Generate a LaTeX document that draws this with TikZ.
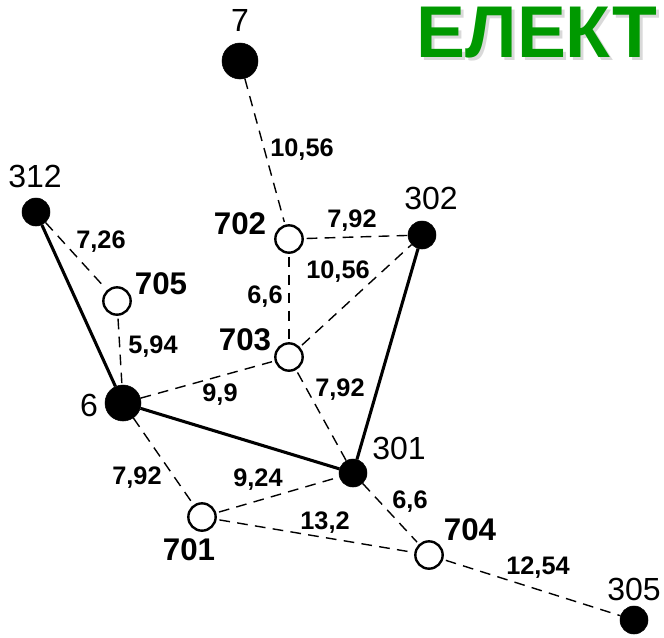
\documentclass[tikz,border=0pt]{standalone}
\usepackage{fontspec}
\setmainfont{Liberation Sans}
\usepackage{tikz}
\usetikzlibrary{positioning}

\begin{document}
\begin{tikzpicture}[x=0.75pt,y=-0.75pt,
  bnode/.style={circle,fill=black,draw=black,inner sep=0pt},
  wnode/.style={circle,fill=white,draw=black,line width=1.8pt,inner sep=0pt,minimum size=20.5pt,outer sep=3pt},
  tline/.style={line width=2.3pt},
  dline/.style={dash pattern=on 8pt off 5.5pt,line width=1.05pt},
  nlab/.style={inner sep=0pt,font=\fontsize{24}{24}\selectfont},
  blab/.style={inner sep=0pt,font=\bfseries\fontsize{23.5}{23.5}\selectfont},
  elab/.style={inner sep=0pt,font=\bfseries\fontsize{19}{19}\selectfont}]
\definecolor{elgreen}{HTML}{009900}
\useasboundingbox (0,0) rectangle (664,637);

% title
\node[text=gray!30,inner sep=0pt,font=\bfseries\fontsize{55}{55}\selectfont] (titleshadow) at (540,36) {ЕЛЕКТ};
\node[text=elgreen,inner sep=0pt,font=\bfseries\fontsize{55}{55}\selectfont] (title) at (537,33) {ЕЛЕКТ};

% stations
\node[bnode,minimum size=27pt] (n7) at (240,61) {};
\node[bnode,minimum size=27pt] (n6) at (123,403) {};
\foreach \n/\x/\y in {312/36/212,302/422/235,301/353/473,305/634/620}
  \node[bnode,minimum size=21pt] (n\n) at (\x,\y) {};
\foreach \n/\x/\y in {702/289/239,705/117/301,703/289/357,701/202/517,704/429/555}
  \node[wnode] (n\n) at (\x,\y) {};

% names
\node[nlab] (l7) at (240,20) {7};
\node[nlab] (l312) at (35,176) {312};
\node[nlab] (l302) at (431,198) {302};
\node[nlab] (l6) at (89,405) {6};
\node[nlab] (l301) at (399,448) {301};
\node[nlab] (l305) at (634,589) {305};
\node[blab] (l702) at (240,224) {702};
\node[blab] (l705) at (161,284) {705};
\node[blab] (l703) at (245,340) {703};
\node[blab] (l701) at (189,550) {701};
\node[blab] (l704) at (470,530) {704};

% lines
\draw[tline] (n312) -- (n6);
\draw[tline] (n302) -- (n301);
\draw[tline] (n6) -- (n301);
\foreach \a/\b in {n7/n702,n312/n705,n705/n6,n702/n302,n702/n703,n703/n302,n6/n703,n703/n301,n6/n701,n701/n301,n701/n704,n301/n704,n704/n305}
  \draw[dline] (\a) -- (\b);

% lengths
\node[elab] (e1) at (302,150) {10,56};
\node[elab] (e2) at (101,242) {7,26};
\node[elab] (e3) at (153,347) {5,94};
\node[elab] (e4) at (352,221) {7,92};
\node[elab] (e5) at (338,272) {10,56};
\node[elab] (e6) at (265,297) {6,6};
\node[elab] (e7) at (220,395) {9,9};
\node[elab] (e8) at (340,390) {7,92};
\node[elab] (e9) at (137,478) {7,92};
\node[elab] (e10) at (258,480) {9,24};
\node[elab] (e11) at (325,523) {13,2};
\node[elab] (e12) at (410,502) {6,6};
\node[elab] (e13) at (538,568) {12,54};
\end{tikzpicture}
\end{document}
